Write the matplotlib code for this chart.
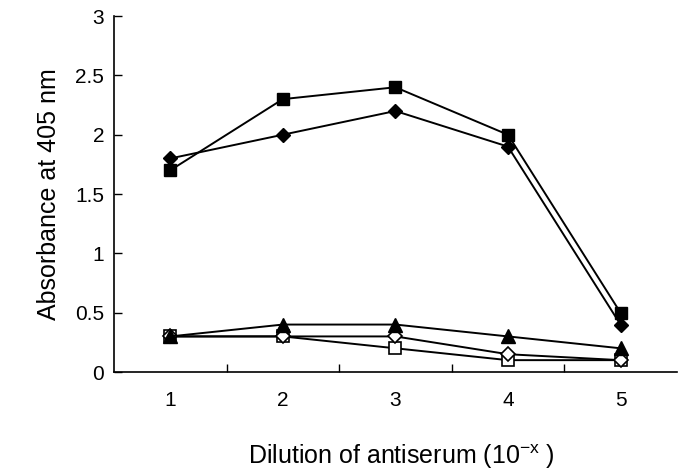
import matplotlib
matplotlib.use("Agg")
import matplotlib.pyplot as plt

plt.rcParams.update({
    "font.family": "Liberation Sans",
    "mathtext.fontset": "custom",
    "mathtext.rm": "Liberation Sans",
    "mathtext.it": "Liberation Sans",
})

dilution = [1, 2, 3, 4, 5]
filled_square = [1.7, 2.3, 2.4, 2.0, 0.5]
filled_diamond = [1.8, 2.0, 2.2, 1.9, 0.4]
filled_triangle = [0.3, 0.4, 0.4, 0.3, 0.2]
open_diamond = [0.3, 0.3, 0.3, 0.15, 0.1]
open_square = [0.3, 0.3, 0.2, 0.1, 0.1]

fig = plt.figure(figsize=(6.85, 4.73), dpi=100)
ax = fig.add_axes([0.1664, 0.2135, 0.8216, 0.7525])

lw = 1.4
ax.plot(dilution, open_square, color="black", lw=lw, marker="s", ms=8.5,
        mfc="white", mec="black", mew=1.2, zorder=3)
ax.plot(dilution, open_diamond, color="black", lw=lw, marker="D", ms=7.5,
        mfc="white", mec="black", mew=1.2, zorder=3)
ax.plot(dilution, filled_triangle, color="black", lw=lw, marker="^", ms=9.5,
        mfc="black", mec="black", zorder=4)
ax.plot(dilution, filled_diamond, color="black", lw=lw, marker="D", ms=7.5,
        mfc="black", mec="black", zorder=4)
ax.plot(dilution, filled_square, color="black", lw=lw, marker="s", ms=8.5,
        mfc="black", mec="black", zorder=4)

ax.set_xlim(0.5, 5.5)
ax.set_ylim(0, 3)
# category boundaries get ticks, category centres get labels
ax.set_xticks([1.5, 2.5, 3.5, 4.5])
ax.set_xticks(dilution, minor=True)
ax.set_xticklabels([])
ax.set_xticklabels([str(d) for d in dilution], minor=True)
ax.tick_params(axis="x", which="major", direction="in", length=6, width=1)
ax.tick_params(axis="x", which="minor", length=0, pad=14, labelsize=15)
ax.set_yticks([0, 0.5, 1, 1.5, 2, 2.5, 3])
ax.set_yticklabels(["0", "0.5", "1", "1.5", "2", "2.5", "3"])
ax.tick_params(axis="y", direction="in", length=6, width=1, labelsize=15, pad=7)

ax.spines["top"].set_visible(False)
ax.spines["right"].set_visible(False)
ax.spines["left"].set_linewidth(1.2)
ax.spines["bottom"].set_linewidth(1.2)

ax.set_ylabel("Absorbance at 405 nm", fontsize=18, labelpad=10)
ax.set_xlabel(r"Dilution of antiserum (10$^{\mathregular{-x}}$ )", fontsize=18, labelpad=23)
ax.xaxis.label.set_x(0.51)

fig.savefig("out.png", dpi=100)
